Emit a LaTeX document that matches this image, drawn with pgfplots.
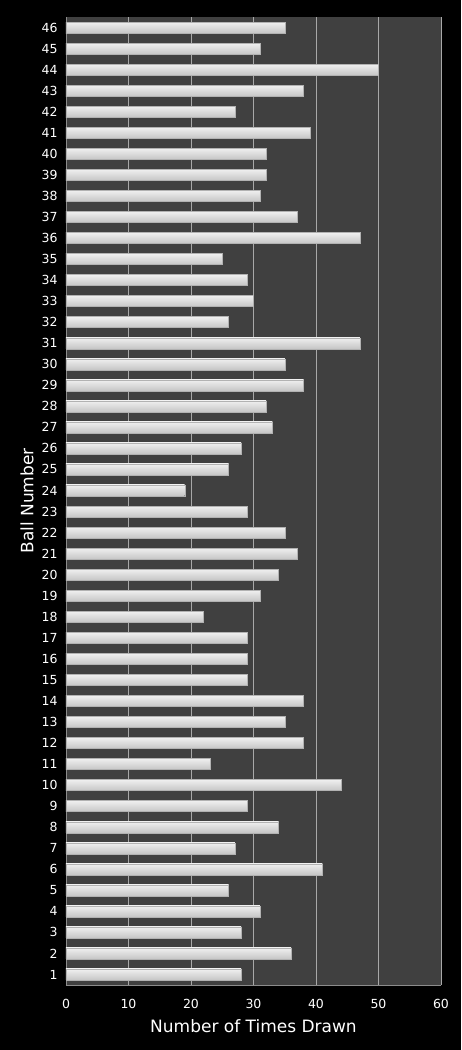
\documentclass[border=0pt]{standalone}
\usepackage{fontspec}
\setmainfont{DejaVu Sans}
\usepackage{pgfplots}
\pgfplotsset{compat=1.18}
\definecolor{plotbg}{HTML}{404040}
\definecolor{gridc}{HTML}{A8A8A8}
\definecolor{axisc}{HTML}{8C8C8C}
\pgfplotstableread{
ball count
1 28
2 36
3 28
4 31
5 26
6 41
7 27
8 34
9 29
10 44
11 23
12 38
13 35
14 38
15 29
16 29
17 29
18 22
19 31
20 34
21 37
22 35
23 29
24 19
25 26
26 28
27 33
28 32
29 38
30 35
31 47
32 26
33 30
34 29
35 25
36 47
37 37
38 31
39 32
40 32
41 39
42 27
43 38
44 50
45 31
46 35
}\draws
\begin{document}
\begin{tikzpicture}
\fill[black] (-66pt,-65pt) rectangle (395pt,985pt);
\begin{axis}[
    at={(0,0)}, anchor=south west,
    scale only axis,
    width=375pt, height=968pt,
    xbar, bar width=11pt, bar shift=0pt,
    xmin=0, xmax=60,
    ymin=0.5, ymax=46.5,
    xtick={0,10,...,60},
    ytick={1,...,46},
    axis background/.style={fill=plotbg},
    xmajorgrids, grid style={gridc, line width=0.6pt},
    axis x line*=bottom, axis y line*=left,
    axis line style={axisc, line width=0.8pt},
    major tick length=0pt,
    /pgf/number format/assume math mode=true,
    tick label style={white, font=\fontsize{12.5}{14}\selectfont},
    xticklabel style={yshift=-11pt},
    yticklabel style={xshift=-5pt},
    xlabel={Number of Times Drawn},
    ylabel={Ball Number},
    label style={white, font=\fontsize{17}{20}\selectfont},
    xlabel style={yshift=-4pt},
    ylabel style={yshift=1pt},
]
\pgfplotsinvokeforeach{1,...,46}{
\addplot[draw=gray!60, line width=0.3pt, shading=axis,
    top color=gray!12, middle color=white, bottom color=gray!45,
    restrict y to domain=#1:#1, forget plot]
    table[x=count, y=ball] {\draws};
}
\end{axis}
\end{tikzpicture}
\end{document}
